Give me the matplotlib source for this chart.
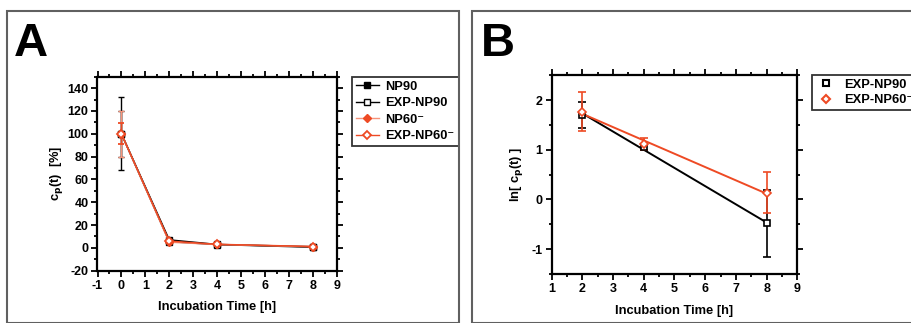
import numpy as np
import matplotlib
matplotlib.use("Agg")
import matplotlib.pyplot as plt
from matplotlib.patches import Rectangle
from matplotlib.lines import Line2D
from matplotlib.ticker import MultipleLocator

plt.rcParams['font.family'] = ['Liberation Sans', 'DejaVu Sans']
plt.rcParams['font.weight'] = 'bold'
plt.rcParams['mathtext.default'] = 'bf'
plt.rcParams['axes.unicode_minus'] = False

RED = '#ee4a24'
LIGHT_RED = '#f6937a'

# Panel A: plasma concentration (% of initial)
time_a = [0, 2, 4, 8]
np90 = [100, 7.0, 3.0, 1.0]
np90_err = [32, 2.0, 0.8, 0.6]
exp_np90 = [100, 5.5, 2.9, 0.6]
exp_np90_err = [20, 1.5, 0.2, 0.4]
np60 = [100, 5.0, 3.0, 1.0]
np60_err = [20, 1.5, 0.5, 0.5]
exp_np60 = [100, 5.9, 3.1, 1.2]
exp_np60_err = [9, 2.0, 0.3, 0.5]

# Panel B: log-transformed concentration
time_b = [2, 4, 8]
ln_exp_np90 = [1.70, 1.05, -0.48]
ln_exp_np90_err = [0.26, 0.06, 0.68]
ln_exp_np60 = [1.77, 1.12, 0.14]
ln_exp_np60_err = [0.39, 0.12, 0.42]

labels_a = ['NP90', 'EXP-NP90', 'NP60⁻', 'EXP-NP60⁻']
labels_b = ['EXP-NP90', 'EXP-NP60⁻']

W, H = 912, 323
fig = plt.figure(figsize=(W / 100, H / 100), dpi=100)


def px_axes(x0, y0, x1, y1):
    return fig.add_axes([x0 / W, 1 - y1 / H, (x1 - x0) / W, (y1 - y0) / H])


def style_axes(ax):
    for s in ax.spines.values():
        s.set_linewidth(1.6)
    ax.tick_params(which='both', direction='out', top=True, right=True,
                   width=1.3, labelsize=9, pad=2.5)
    ax.tick_params(which='major', length=4)
    ax.tick_params(which='minor', length=2.5)
    for lab in ax.get_xticklabels() + ax.get_yticklabels():
        lab.set_fontweight('bold')


def make_legend(ax, handles, labels, x_px, x0_px, x1_px, **kw):
    leg = ax.legend(handles, labels, loc='upper left',
                    bbox_to_anchor=((x_px - x0_px) / (x1_px - x0_px), 1.0),
                    frameon=True, fancybox=False, edgecolor='black',
                    borderaxespad=0,
                    prop={'weight': 'bold', 'size': kw.pop('size', 9)}, **kw)
    leg.get_frame().set_linewidth(1.3)
    return leg


# Panel frames
fig.add_artist(Rectangle((7 / W, 0), (459 - 7) / W, 1 - 11 / H,
                         transform=fig.transFigure, fill=False,
                         edgecolor='#606060', linewidth=1.5))
fig.add_artist(Rectangle((472 / W, 0), (W + 10 - 472) / W, 1 - 11 / H,
                         transform=fig.transFigure, fill=False,
                         edgecolor='#606060', linewidth=1.5))
fig.text(14 / W, 1 - 56 / H, 'A', fontsize=34, fontweight='bold', va='baseline')
fig.text(481 / W, 1 - 56 / H, 'B', fontsize=34, fontweight='bold', va='baseline')

# ---- Panel A ----
ax = px_axes(97.5, 76.7, 336.7, 270.7)
eb = dict(capsize=2.5, elinewidth=1.0, capthick=1.0)
styles_a = [
    dict(color='black', marker='s', ms=4, mfc='black', mec='black'),
    dict(color='black', marker='s', ms=4, mfc='white', mec='black'),
    dict(color=LIGHT_RED, marker='D', ms=4.5, mfc=RED, mec=RED),
    dict(color=RED, marker='D', ms=4.5, mfc='white', mec=RED, mew=1.3),
]
series_a = [(np90, np90_err), (exp_np90, exp_np90_err),
            (np60, np60_err), (exp_np60, exp_np60_err)]
for (y, e), st in zip(series_a, styles_a):
    ax.errorbar(time_a, y, yerr=e, lw=1.1, **st, **eb)
ax.set_xlim(-1, 9)
ax.set_ylim(-20, 150)
ax.xaxis.set_major_locator(MultipleLocator(1))
ax.xaxis.set_minor_locator(MultipleLocator(0.5))
ax.yaxis.set_major_locator(MultipleLocator(20))
ax.yaxis.set_minor_locator(MultipleLocator(10))
style_axes(ax)
ax.set_xlabel('Incubation Time [h]', fontsize=9.3, fontweight='bold', labelpad=7)
ax.set_ylabel('c$_p$(t)  [%]', fontsize=9.3, fontweight='bold', labelpad=2)
handles_a = [Line2D([], [], lw=1.0, **st) for st in styles_a]
make_legend(ax, handles_a, labels_a, 352, 97.5, 336.7,
            handlelength=1.8, handletextpad=0.5, size=9.3,
            borderpad=0.3, labelspacing=0.35)

# ---- Panel B ----
bx = px_axes(551.7, 75.3, 797.3, 274.0)
styles_b = [dict(color='black', marker='s', mfc='white', mec='black'),
            dict(color=RED, marker='D', mfc='white', mec=RED)]
for y, e, st in [(ln_exp_np90, ln_exp_np90_err, styles_b[0]),
                 (ln_exp_np60, ln_exp_np60_err, styles_b[1])]:
    slope, icpt = np.polyfit(time_b, y, 1)
    xs = np.array([min(time_b), max(time_b)])
    bx.plot(xs, slope * xs + icpt, color=st['color'], lw=1.4, zorder=2)
    bx.errorbar(time_b, y, yerr=e, ls='none', ms=4, mew=1.2, capsize=3,
                elinewidth=1.2, capthick=1.2, zorder=3, **st)
bx.set_xlim(1, 9)
bx.set_ylim(-1.5, 2.5)
bx.xaxis.set_major_locator(MultipleLocator(1))
bx.xaxis.set_minor_locator(MultipleLocator(0.5))
bx.yaxis.set_major_locator(MultipleLocator(1))
bx.yaxis.set_minor_locator(MultipleLocator(0.5))
style_axes(bx)
bx.set_xlabel('Incubation Time [h]', fontsize=9.3, fontweight='bold', labelpad=7)
bx.set_ylabel('ln[ c$_p$(t) ]', fontsize=9.3, fontweight='bold', labelpad=5)
handles_b = [Line2D([], [], ls='none', ms=4.5, mew=1.5, **st) for st in styles_b]
make_legend(bx, handles_b, labels_b, 812.5, 551.7, 797.3,
            handlelength=1.6, handletextpad=0.6, size=9.3,
            borderpad=0.25, labelspacing=0.3)

fig.savefig('out.png', dpi=100)
